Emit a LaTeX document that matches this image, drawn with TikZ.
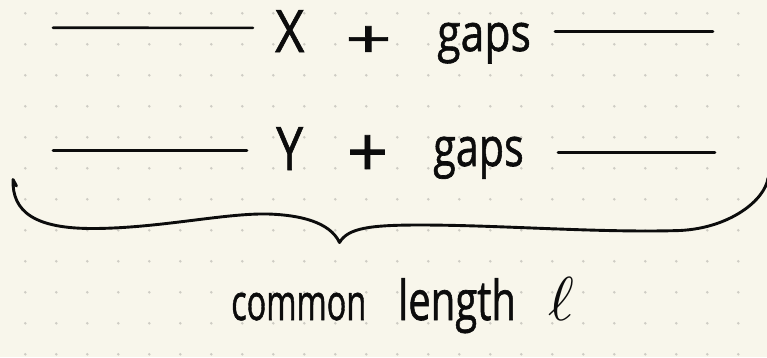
\documentclass[tikz,border=0pt]{standalone}
\usepackage{fontspec}
\setmainfont{Open Sans}
\newfontfamily\handfont{Open Sans}[FakeBold=1.2]
\usepackage{graphicx}
\definecolor{paper}{RGB}{248,246,235}
\definecolor{dotc}{RGB}{206,204,196}
\definecolor{ink}{RGB}{12,12,12}
\begin{document}
\begin{tikzpicture}[x=1pt,y=-1pt,
  hand/.style={font=\handfont\fontsize{48}{48}\selectfont, text=ink, inner sep=0pt, anchor=base west},
  handc/.style={font=\handfont\fontsize{48}{48}\selectfont, text=ink, inner sep=0pt, anchor=center},
  rule/.style={draw=ink, line width=2.6pt, line cap=round},
  bracepath/.style={draw=ink, line width=2.9pt, line cap=round, line join=round}]
\clip (0,0) rectangle (767,357);
\fill[paper] (0,0) rectangle (767,357);
\foreach \i in {0,...,23}{\foreach \j in {0,...,11}{\fill[dotc] (25.3+31*\i,13.3+31*\j) circle (1.4pt);}}

% row 1
\coordinate (r1a) at (53,27.7);
\coordinate (r1b) at (253,27.9);
\coordinate (r1c) at (555,31.7);
\coordinate (r1d) at (713,31.7);
\draw[rule] (r1a) -- (r1b);
\draw[rule] (r1c) -- (r1d);
\node[hand] (X) at (275,52) {\scalebox{1.05}[1.22]{X}};
\node[handc] (plusA) at (368.5,42) {\scalebox{1.7}[1.1]{+}};
\node[hand] (gapsA) at (437,51) {\scalebox{0.89}[1.08]{gaps}};

% row 2
\coordinate (r2a) at (53,150.7);
\coordinate (r2b) at (247,150.7);
\coordinate (r2c) at (558,152.3);
\coordinate (r2d) at (715,152.3);
\draw[rule] (r2a) -- (r2b);
\draw[rule] (r2c) -- (r2d);
\node[hand] (Y) at (276,170) {\scalebox{1.0}[1.25]{Y}};
\node[handc] (plusB) at (367.5,156) {\scalebox{1.5}[1.45]{+}};
\node[hand] (gapsB) at (433,166) {\scalebox{0.86}[1.12]{gaps}};

% brace
\coordinate (bl) at (13,179.5);
\coordinate (tip) at (339.5,242.5);
\coordinate (br) at (768,178);
\draw[bracepath] (16.5,186) -- (bl)
  .. controls (12,212) and (35,229) .. (95,228.5)
  .. controls (160,228) and (225,213) .. (268,214)
  .. controls (300,215) and (330,222) .. (tip)
  .. controls (348,228) and (370,225) .. (420,225)
  .. controls (500,225) and (600,233) .. (680,230.5)
  .. controls (730,228) and (765,200) .. (br);

% row 3
\node[hand, font=\handfont\fontsize{50}{50}\selectfont] (common) at (231,320) {\scalebox{0.65}[1.0]{common}};
\node[hand, font=\handfont\fontsize{50}{50}\selectfont] (length) at (398,320) {\scalebox{0.8}[1.1]{length}};
\node[hand] (ell) at (548,320) {\fontsize{10}{12}\selectfont\scalebox{6.2}{$\ell$}};
\end{tikzpicture}
\end{document}
